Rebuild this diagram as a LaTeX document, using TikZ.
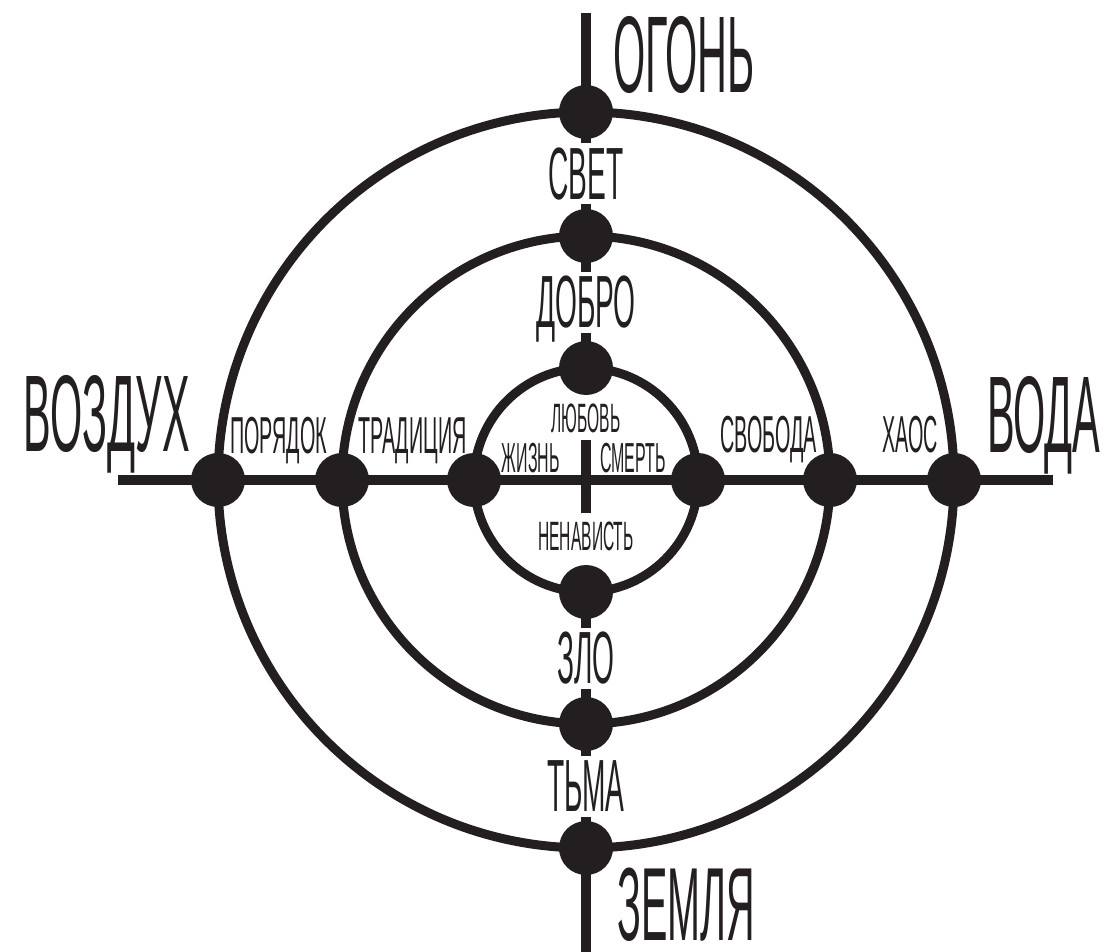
\documentclass[tikz,border=0pt]{standalone}
\usepackage{fontspec}
\usepackage{xcolor}
\usepackage{tikz}
\usetikzlibrary{positioning, calc}
\newfontfamily\runefont[FakeStretch=0.38]{Liberation Sans}
\definecolor{SignInk}{RGB}{35, 31, 32}

\tikzset{
  axisline/.style={draw=SignInk, line width=10pt},
  ringline/.style={draw=SignInk, line width=9pt},
  dotnode/.style={circle, fill=SignInk, minimum size=54pt, inner sep=0pt},
  bigword/.style={text=SignInk, inner sep=0pt,
    font=\runefont\fontsize{109}{109}\selectfont},
  sideword/.style={text=SignInk, inner sep=0pt,
    font=\runefont\fontsize{52}{52}\selectfont},
  stemword/.style={text=SignInk, fill=white, inner sep=5pt,
    text height=51pt, text depth=0pt,
    font=\runefont\fontsize{74}{74}\selectfont},
  coreword/.style={text=SignInk, fill=white, inner sep=5pt,
    text height=28pt, text depth=0pt,
    font=\runefont\fontsize{41}{41}\selectfont}
}

\begin{document}
\begin{tikzpicture}[x=1pt, y=-1pt]
  \path[use as bounding box] (0,0) rectangle (1105,952);
  \coordinate (centre) at (586,480);
  \coordinate (air) at (118,480);
  \coordinate (water) at (1053,480);
  \coordinate (fire) at (586,13);
  \coordinate (earth) at (586,952);

  % rings and their dots
  \foreach \r/\ring in {368/outer, 244/middle, 112/inner} {
    \draw[ringline] (centre) circle[radius=\r pt];
    \node[dotnode] (\ring-n) at ($(centre)+(0,-\r)$) {};
    \node[dotnode] (\ring-s) at ($(centre)+(0,\r)$) {};
    \node[dotnode] (\ring-w) at ($(centre)+(-\r,0)$) {};
    \node[dotnode] (\ring-e) at ($(centre)+(\r,0)$) {};
  }

  % axes
  \draw[axisline] (air) -- (water);
  \draw[axisline] (fire) -- (inner-n.center);
  \draw[axisline] (inner-s.center) -- (earth);
  \draw[axisline] ($(centre)+(0,-40)$) -- ($(centre)+(0,33)$);

  % elements
  \node[bigword, anchor=base west] (fire-word) at ($(outer-n)+(27,-19)$) {ОГОНЬ};
  \node[bigword, anchor=base west, text depth=0pt,
    font=\runefont\fontsize{104}{104}\selectfont] (earth-word) at ($(outer-s)+(31,92)$) {ЗЕМЛЯ};
  \node[bigword, anchor=base east] (air-word) at ($(outer-w)+(-28,-29)$) {ВОЗДУХ};
  \node[bigword, anchor=base west] (water-word) at ($(outer-e)+(33,-28)$) {ВОДА};

  % along the vertical axis
  \node[stemword] (light) at ($(outer-n)!0.5!(middle-n)$) {СВЕТ};
  \node[stemword] (good) at ($(middle-n)!0.5!(inner-n)$) {ДОБРО};
  \node[stemword] (evil) at ($(inner-s)!0.5!(middle-s)$) {ЗЛО};
  \node[stemword] (dark) at ($(middle-s)!0.5!(outer-s)$) {ТЬМА};
  \node[coreword] (love) at ($(inner-n)!0.45!(centre)$) {ЛЮБОВЬ};
  \node[coreword] (hate) at ($(centre)!0.5!(inner-s)$) {НЕНАВИСТЬ};

  % along the horizontal axis
  \node[sideword, anchor=base west] (order) at ($(outer-w)+(12,-27)$) {ПОРЯДОК};
  \node[sideword, anchor=base west] (custom) at ($(middle-w)+(16,-27)$) {ТРАДИЦИЯ};
  \node[sideword, anchor=base east] (freedom) at ($(middle-e)+(-13,-28)$) {СВОБОДА};
  \node[sideword, anchor=base east] (chaos) at ($(outer-e)+(-16,-28)$) {ХАОС};
  \node[sideword, anchor=base east, font=\runefont\fontsize{42}{42}\selectfont] (life) at ($(centre)+(-26,-8)$) {ЖИЗНЬ};
  \node[sideword, anchor=base west, font=\runefont\fontsize{42}{42}\selectfont] (death) at ($(centre)+(14,-8)$) {СМЕРТЬ};
\end{tikzpicture}
\end{document}
